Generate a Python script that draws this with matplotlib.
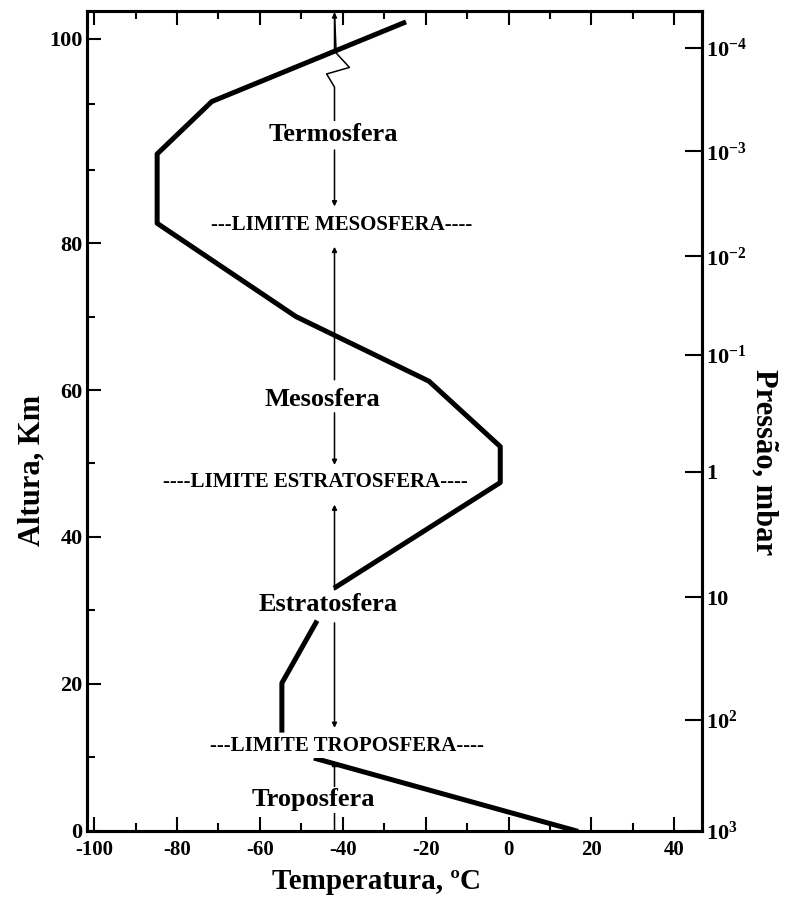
import numpy as np
import matplotlib
matplotlib.use("Agg")
import matplotlib.pyplot as plt
from matplotlib.ticker import FixedLocator

plt.rcParams['font.family'] = ['Liberation Serif', 'DejaVu Serif']
plt.rcParams['font.weight'] = 'bold'
plt.rcParams['axes.unicode_minus'] = False
plt.rcParams['mathtext.fontset'] = 'custom'
plt.rcParams['mathtext.rm'] = 'Liberation Serif:bold'
plt.rcParams['mathtext.it'] = 'Liberation Serif:bold'
plt.rcParams['mathtext.bf'] = 'Liberation Serif:bold'

# perfil de temperatura (T em ºC, altura em km), em 3 trechos
trop_T = [16.2, -46.4]
trop_z = [0.0, 9.8]
estr_baixa_T = [-54.7, -54.7, -46.5]
estr_baixa_z = [13.7, 20.1, 28.3]
superior_T = [-41.6, -2.0, -2.0, -19.2, -51.3, -84.8, -84.8, -71.6, -25.3]
superior_z = [33.2, 47.4, 52.3, 61.2, 70.0, 82.7, 91.2, 95.2, 101.2]

# escala de pressão (eixo direito)
pressao_z = [99.3, 91.4, 78.2, 64.8, 48.9, 31.8, 15.1, 0.0]
pressao_lbl = ['$10^{-4}$', '$10^{-3}$', '$10^{-2}$', '$10^{-1}$', '1', '10',
               '$10^{2}$', '$10^{3}$']

# linha guia vertical com setas
guia_T = -42.0
quebra_T = [-42.0, -41.6, -38.4, -43.9, -42.0, -42.0]
quebra_z = [101.9, 98.9, 97.8, 97.3, 96.3, 93.7]
setas_z = [(98.9, 102.0), (91.5, 85.0), (61.4, 79.5), (56.9, 49.8),
           (32.8, 44.4), (28.3, 14.0), (0.0, 9.5)]

# rótulos das camadas
camadas = ['Termosfera', '---LIMITE MESOSFERA----', 'Mesosfera',
           '----LIMITE ESTRATOSFERA----', 'Estratosfera',
           '---LIMITE TROPOSFERA----', 'Troposfera']
camadas_T = [-42.2, -40.2, -45.0, -46.6, -43.5, -39.0, -47.2]
camadas_z = [92.7, 82.4, 58.7, 47.5, 30.8, 11.5, 4.2]
camadas_tam = [19, 15, 19, 15, 19, 15, 19]

# eixo y quebrado acima de 90 km
K = 1.785
def fwd(z):
    z = np.asarray(z, dtype=float)
    return np.where(z <= 90, z, 90 + (z - 90) * K)

def inv(u):
    u = np.asarray(u, dtype=float)
    return np.where(u <= 90, u, 90 + (u - 90) / K)

fig = plt.figure(figsize=(7.86, 9.05), dpi=100)
ax = fig.add_axes([0.1103, 0.0821, 0.7824, 0.9057])
ax.set_yscale('function', functions=(fwd, inv))

lw = 3.6
ax.plot(trop_T, trop_z, color='black', lw=lw)
ax.plot(estr_baixa_T, estr_baixa_z, color='black', lw=lw)
ax.plot(superior_T, superior_z, color='black', lw=lw)

ax.plot(quebra_T, quebra_z, color='black', lw=1.1)
for z0, z1 in setas_z:
    ax.annotate('', xy=(guia_T, z1), xytext=(guia_T, z0),
                arrowprops=dict(arrowstyle='-|>', lw=1.1, color='black',
                                mutation_scale=7, shrinkA=0, shrinkB=0))

for txt, t, z, s in zip(camadas, camadas_T, camadas_z, camadas_tam):
    ax.text(t, z, txt, ha='center', va='center', fontsize=s, fontweight='bold',
            bbox=dict(facecolor='white', edgecolor='none', pad=1))

ax.set_xlim(-101.8, 46.6)
ax.set_ylim(0, 102.1)
ax.set_xticks(np.arange(-100, 41, 20))
ax.xaxis.set_minor_locator(FixedLocator(np.arange(-90, 41, 20)))
ax.set_yticks([0, 20, 40, 60, 80, 100])
ax.yaxis.set_minor_locator(FixedLocator([10, 30, 50, 70, 90, 95]))
ax.tick_params(axis='x', which='both', direction='in', top=True, labelsize=15,
               width=1.5, pad=7)
ax.tick_params(axis='y', which='both', direction='in', right=False, labelsize=16,
               width=1.5, pad=3)
ax.tick_params(which='major', length=10)
ax.tick_params(which='minor', length=6)
for sp in ax.spines.values():
    sp.set_linewidth(2.2)

ax.set_xlabel('Temperatura, ºC', fontsize=21, fontweight='bold')
ax.xaxis.set_label_coords(0.472, -0.046)
ax.set_ylabel('Altura, Km', fontsize=22, fontweight='bold')
ax.yaxis.set_label_coords(-0.065, 0.44)

ax2 = ax.twinx()
ax2.set_yscale('function', functions=(fwd, inv))
ax2.set_ylim(ax.get_ylim())
ax2.set_yticks(pressao_z)
ax2.set_yticklabels(pressao_lbl)
ax2.yaxis.set_minor_locator(FixedLocator([]))
ax2.tick_params(axis='y', direction='in', length=12, width=1.5, labelsize=16, pad=3)
ax2.set_ylabel('Pressão, mbar', fontsize=22, fontweight='bold', rotation=270)
ax2.yaxis.set_label_coords(1.125, 0.45)
for sp in ax2.spines.values():
    sp.set_linewidth(2.2)

fig.savefig('out.png', dpi=100)
